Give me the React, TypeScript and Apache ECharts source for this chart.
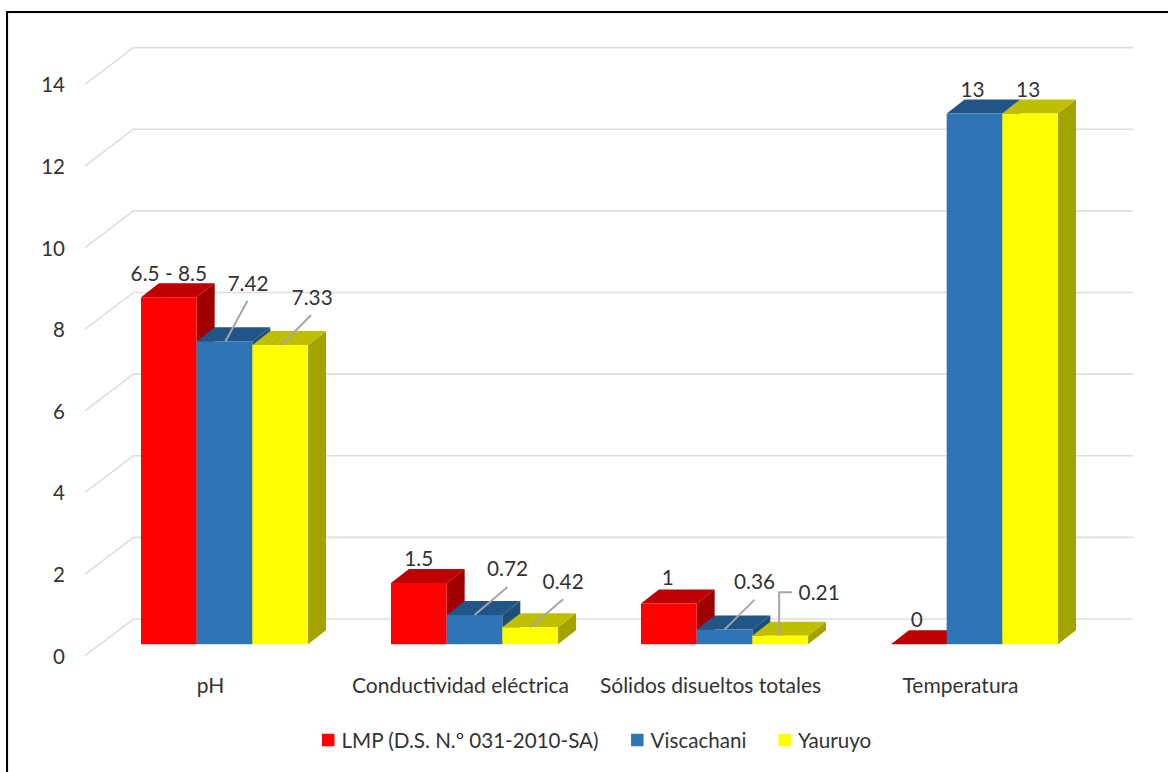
import React, { useEffect, useRef } from "react";
import * as echarts from "echarts";

const categories = ["pH", "Conductividad eléctrica", "Sólidos disueltos totales", "Temperatura"];
const yTicks = [0, 2, 4, 6, 8, 10, 12, 14];
const lmpValues = [8.5, 1.5, 1, 0];
const viscachaniValues = [7.42, 0.72, 0.36, 13];
const yauruyoValues = [7.33, 0.42, 0.21, 13];
const lmpLabels = ["6.5 - 8.5", "1.5", "1", "0"];
const viscachaniLabels = ["7.42", "0.72", "0.36", "13"];
const yauruyoLabels = ["7.33", "0.42", "0.21", "13"];

const FONT = '20.8px Lato, "Open Sans", sans-serif';
const TEXT = "#333333";
const DEPTH_X = 18;
const DEPTH_Y = 14;
const WALL_X = 48.5;
const WALL_Y = 36.7;
const BAR_SHIFT = 14;
const BAR_WIDTH_RATIO = 0.2227;
const LABEL_LIFT = 1.5;

// [label dx, label dy, leader points relative to the bar's top centre]
type Place = { dx: number; dy: number; leader?: number[][] };
const lmpPlaces: Place[] = [
  { dx: 0, dy: -23 },
  { dx: 0, dy: -24 },
  { dx: -1, dy: -25 },
  { dx: -2, dy: -24 },
];
const viscachaniPlaces: Place[] = [
  { dx: 23.5, dy: -57, leader: [[23, -40.5], [1, 0]] },
  { dx: 33, dy: -45.5, leader: [[33, -28], [0, 0]] },
  { dx: 30, dy: -47.5, leader: [[30, -30], [0, 0]] },
  { dx: -2, dy: -24 },
];
const yauruyoPlaces: Place[] = [
  { dx: 32, dy: -47, leader: [[31, -30], [1, 0]] },
  { dx: 33, dy: -45, leader: [[33, -28], [0, 0]] },
  { dx: 39, dy: -43, leader: [[12, -43.4], [-1, -43.4], [-1, 0]] },
  { dx: -2, dy: -24 },
];

function barRenderer(index: number, front: string, top: string, side: string, labels: string[], places: Place[]) {
  return (params: any, api: any) => {
    const cat = api.value(0);
    const val = api.value(1);
    const p = api.coord([cat, val]);
    const base = api.coord([cat, 0]);
    const w = api.size([1, 0])[0] * BAR_WIDTH_RATIO;
    const x0 = p[0] + BAR_SHIFT + (index - 1.5) * w;
    const x1 = x0 + w;
    const y0 = p[1];
    const y1 = base[1];
    const cx = x0 + w / 2;
    const place = places[params.dataIndex];
    const children: any[] = [
      {
        type: "polygon",
        shape: { points: [[x1, y0], [x1 + DEPTH_X, y0 - DEPTH_Y], [x1 + DEPTH_X, y1 - DEPTH_Y], [x1, y1]] },
        style: { fill: side },
      },
      {
        type: "polygon",
        shape: { points: [[x0, y0], [x0 + DEPTH_X, y0 - DEPTH_Y], [x1 + DEPTH_X, y0 - DEPTH_Y], [x1, y0]] },
        style: { fill: top },
      },
      { type: "rect", shape: { x: x0, y: y0, width: w, height: y1 - y0 }, style: { fill: front } },
    ];
    if (place.leader) {
      children.push({
        type: "polyline",
        shape: { points: place.leader.map((q) => [cx + q[0], y0 + q[1]]) },
        style: { stroke: "#A6A6A6", lineWidth: 2, fill: "none" },
      });
    }
    children.push({
      type: "text",
      style: {
        x: cx + place.dx,
        y: y0 + place.dy - LABEL_LIFT,
        text: labels[params.dataIndex],
        align: "center",
        verticalAlign: "middle",
        font: FONT,
        fill: TEXT,
      },
    });
    return { type: "group", children };
  };
}

function wallRenderer(_params: any, api: any) {
  const a = api.coord([0, api.value(1)]);
  const b = api.coord([1, api.value(1)]);
  return {
    type: "polyline",
    shape: { points: [a, [a[0] + WALL_X, a[1] - WALL_Y], [b[0], b[1] - WALL_Y]] },
    style: { stroke: "#DEDEDE", lineWidth: 1.6, fill: "none" },
  };
}

const pairs = (vals: number[]) => vals.map((v, i) => [i, v]);

export default function App() {
  const ref = useRef<HTMLDivElement>(null);
  useEffect(() => {
    const chart = echarts.init(ref.current!, undefined, { renderer: "svg" });
    chart.setOption({
      animation: false,
      backgroundColor: "#ffffff",
      grid: [
        { left: 85.5, width: 1000, top: 72.7, height: 571.6 },
        { left: 85, width: 1048, top: 84.3, height: 571.4 },
      ],
      xAxis: [
        {
          type: "category",
          gridIndex: 0,
          data: categories,
          axisLine: { show: false },
          axisTick: { show: false },
          axisLabel: { margin: 30, color: TEXT, interval: 0, fontFamily: "Lato", fontSize: 21 },
        },
        { type: "value", gridIndex: 1, min: 0, max: 1, show: false },
      ],
      yAxis: [
        { type: "value", gridIndex: 0, min: 0, max: 14, show: false },
        {
          type: "value",
          gridIndex: 1,
          min: 0,
          max: 14,
          interval: 2,
          axisLine: { show: false },
          axisTick: { show: false },
          splitLine: { show: false },
          axisLabel: { margin: 20, color: TEXT, fontFamily: "Lato", fontSize: 20.5, padding: [2, 0, 0, 0] },
        },
      ],
      legend: {
        data: ["LMP (D.S. N.º 031-2010-SA)", "Viscachani", "Yauruyo"],
        left: 317,
        top: 724.5,
        icon: "rect",
        itemWidth: 12.5,
        itemHeight: 12.5,
        itemGap: 32,
        selectedMode: false,
        textStyle: { color: TEXT, fontFamily: "Lato", fontSize: 20.6, padding: [0, 0, 0, 2] },
      },
      graphic: [
        { type: "rect", shape: { x: 8, y: 13, width: 1160, height: 1 }, style: { fill: "#EBEBEB" } },
        { type: "rect", shape: { x: 8, y: 13, width: 1, height: 759 }, style: { fill: "#EBEBEB" } },
        { type: "rect", shape: { x: 6, y: 11, width: 1162, height: 2 }, style: { fill: "#000000" } },
        { type: "rect", shape: { x: 6, y: 11, width: 2, height: 761 }, style: { fill: "#000000" } },
      ],
      series: [
        {
          type: "custom",
          name: "Pared",
          xAxisIndex: 1,
          yAxisIndex: 1,
          z: 1,
          silent: true,
          encode: { x: 0, y: 1 },
          data: yTicks.map((t) => [0, t]),
          renderItem: wallRenderer,
        },
        {
          type: "custom",
          name: "LMP (D.S. N.º 031-2010-SA)",
          xAxisIndex: 0,
          yAxisIndex: 0,
          z: 2,
          encode: { x: 0, y: 1 },
          itemStyle: { color: "#FF0000" },
          data: pairs(lmpValues),
          renderItem: barRenderer(0, "#FF0000", "#BF0000", "#A00000", lmpLabels, lmpPlaces),
        },
        {
          type: "custom",
          name: "Viscachani",
          xAxisIndex: 0,
          yAxisIndex: 0,
          z: 3,
          encode: { x: 0, y: 1 },
          itemStyle: { color: "#2E75B6" },
          data: pairs(viscachaniValues),
          renderItem: barRenderer(1, "#2E75B6", "#225587", "#1F4E79", viscachaniLabels, viscachaniPlaces),
        },
        {
          type: "custom",
          name: "Yauruyo",
          xAxisIndex: 0,
          yAxisIndex: 0,
          z: 4,
          encode: { x: 0, y: 1 },
          itemStyle: { color: "#FFFF00" },
          data: pairs(yauruyoValues),
          renderItem: barRenderer(2, "#FFFF00", "#BFBF00", "#A3A300", yauruyoLabels, yauruyoPlaces),
        },
      ],
    });
    return () => chart.dispose();
  }, []);
  return <div ref={ref} style={{ position: "fixed", left: 0, top: 0, width: 1168, height: 772 }} />;
}
